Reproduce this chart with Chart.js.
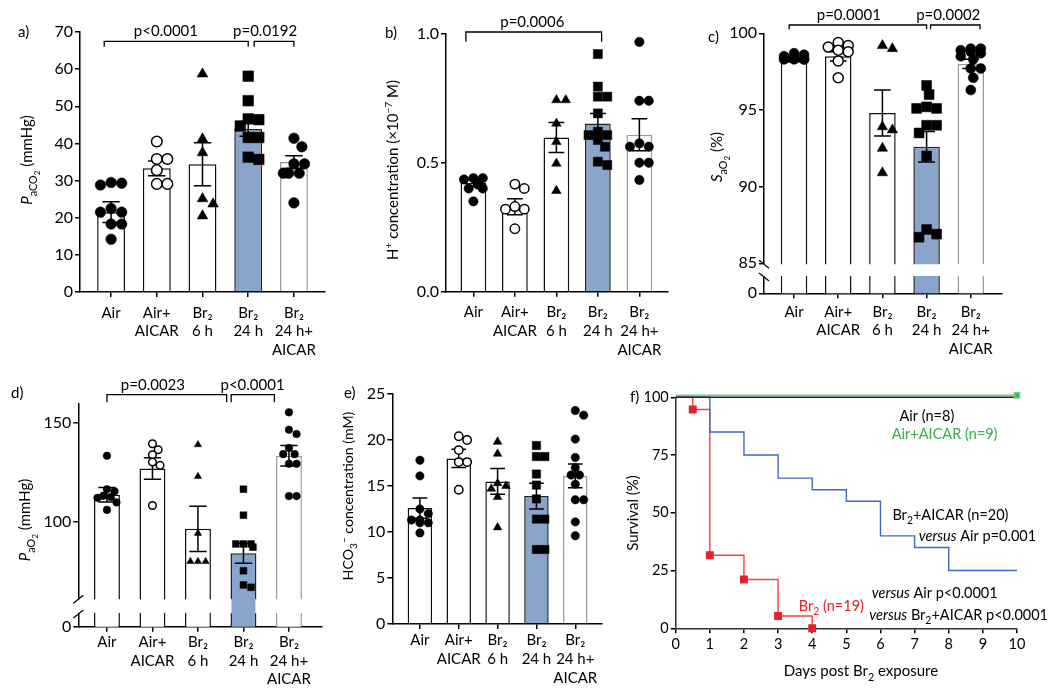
<!DOCTYPE html>
<html>
<head>
<meta charset="utf-8">
<script src="https://cdn.jsdelivr.net/npm/chart.js@4.4.1/dist/chart.umd.min.js"></script>
<style>
  body { margin: 0; background: #fff; }
  #wrap { position: relative; width: 1050px; height: 692px; }
  canvas { position: absolute; }
</style>
</head>
<body>
<div id="wrap"></div>
<script>
// ---- data ----
const groupLabels = [['Air'], ['Air+', 'AICAR'], ['Br₂', '6 h'], ['Br₂', '24 h'], ['Br₂', '24 h+', 'AICAR']]

// a) PaCO2 (mmHg)
const paco2Mean = [21.5, 33.3, 34.4, 43.9, 35.0]
const paco2Sem = [2.8, 2.0, 5.8, 2.0, 1.7]
const paco2Pts = [
  [28.8, 29.5, 29.3, 22.5, 21.5, 21.5, 18.3, 18.3, 14.2],
  [40.5, 35.8, 35.8, 32.8, 29.1, 29.1],
  [58.7, 41.2, 37.5, 25.1, 23.7, 20.5],
  [58.1, 51.5, 46.6, 46.4, 44.7, 41.6, 41.6, 36.3, 35.7],
  [41.4, 39.1, 34.5, 34.5, 32.0, 32.0, 32.0, 24.0]
]

// b) H+ concentration (x10^-7 M)
const hMean = [0.422, 0.329, 0.598, 0.652, 0.608]
const hSem = [0.015, 0.031, 0.058, 0.039, 0.062]
const hPts = [
  [0.44, 0.435, 0.44, 0.415, 0.40, 0.40, 0.35],
  [0.417, 0.40, 0.33, 0.32, 0.32, 0.244],
  [0.743, 0.743, 0.652, 0.581, 0.497, 0.391],
  [0.921, 0.795, 0.756, 0.756, 0.691, 0.62, 0.607, 0.607, 0.588, 0.562, 0.491, 0.504],
  [0.968, 0.74, 0.74, 0.575, 0.562, 0.562, 0.5, 0.5, 0.433]
]

// c) SaO2 (%)
const sao2Mean = [98.2, 98.5, 94.8, 92.6, 98.0]
const sao2Sem = [0.05, 0.3, 1.5, 1.0, 0.3]
const sao2Pts = [
  [98.7, 98.6, 98.5, 98.4, 98.3, 98.3, 98.3, 98.3],
  [99.4, 99.2, 99.1, 98.9, 98.8, 98.2, 97.1],
  [99.0, 99.2, 93.7, 93.9, 92.5, 90.9],
  [96.6, 96.0, 95.2, 95.1, 95.1, 94.0, 94.0, 93.5, 92.0, 87.2, 86.9, 86.7],
  [99.0, 99.0, 98.9, 98.8, 98.7, 98.5, 98.3, 97.7, 97.7, 97.1, 96.3]
]

// d) PaO2 (mmHg)
const pao2Mean = [113.6, 126.9, 96.3, 83.9, 133.4]
const pao2Sem = [3.7, 5.5, 11.5, 5.1, 5.2]
const pao2Pts = [
  [133.4, 116.4, 115.3, 113.0, 112.4, 112.0, 109.7, 105.9],
  [139.5, 136.4, 133.9, 130.2, 128.5, 108.1],
  [139.0, 122.9, 94.0, 79.7, 79.7, 79.7],
  [116.4, 103.2, 88.6, 88.6, 88.6, 87.0, 75.0, 67.8, 66.6],
  [155.4, 146.6, 144.4, 137.3, 134.2, 134.2, 129.3, 129.3, 112.9, 112.9]
]

// e) HCO3- concentration (mM)
const hco3Mean = [12.6, 18.0, 15.5, 13.9, 16.1]
const hco3Sem = [1.1, 1.0, 1.4, 1.4, 1.3]
const hco3Pts = [
  [17.8, 16.1, 12.5, 12.0, 11.3, 11.3, 11.0, 11.0, 9.9],
  [20.4, 20.0, 18.9, 17.6, 17.6, 14.6],
  [19.8, 18.5, 15.3, 15.0, 14.7, 13.8, 10.5],
  [19.4, 18.2, 18.2, 16.3, 15.1, 13.6, 11.4, 11.4, 8.1, 8.1],
  [23.2, 22.7, 20.1, 18.1, 17.0, 16.2, 16.2, 15.2, 13.5, 13.5, 11.1, 9.6]
]

// f) survival (%)
const airDays = [0, 10]
const airSurv = [100, 100]
const airAicarSurv = [100, 100]
const br2AicarDays = [0, 1, 2, 3, 4, 5, 6, 7, 8, 10]
const br2AicarSurv = [100, 85, 75, 65, 60, 55, 40, 35, 25, 25]
const br2Days = [0, 0.5, 1, 2, 3, 4]
const br2Surv = [100, 94.7, 31.6, 21.1, 5.3, 0]
const dayTicks = [0, 1, 2, 3, 4, 5, 6, 7, 8, 9, 10]
const survTicks = [0, 25, 50, 75, 100]

// ---- styles ----
const FONT = 'Lato'
const shapes = ['circle', 'circle', 'triangle', 'rect', 'circle']
const fills = ['#000', '#fff', '#000', '#000', '#000']
const barFill = ['#fff', '#fff', '#fff', 'rgb(138,165,204)', '#fff']
const barLine = ['#111', '#111', '#111', '#222', '#9a9a9a']
const RED = 'rgb(236,70,70)', RED_PT = 'rgb(226,34,40)', BLUE = 'rgb(62,104,198)'
const GREEN = 'rgb(120,204,128)', GREEN_PT = 'rgb(52,178,72)'

const wrap = document.getElementById('wrap')

// draws text with italic / sub / superscript runs, centred on (x, y)
function richText(ctx, parts, x, y, size, opt = {}) {
  const spec = {
    n: [size, 0, ''], i: [size, 0, 'italic '],
    s: [size * 0.72, size * 0.3, ''], ss: [size * 0.55, size * 0.5, ''],
    up: [size * 0.68, -size * 0.38, '']
  }
  let w = 0
  parts.forEach(([t, k]) => {
    const sp = spec[k]
    ctx.font = `${sp[2]}${sp[0]}px ${FONT}`
    w += ctx.measureText(t).width
  })
  ctx.save()
  ctx.translate(x, y)
  if (opt.rot) ctx.rotate(opt.rot)
  ctx.fillStyle = opt.color || '#000'
  ctx.textAlign = 'left'
  ctx.textBaseline = 'alphabetic'
  let cx = -w / 2
  parts.forEach(([t, k]) => {
    const sp = spec[k]
    ctx.font = `${sp[2]}${sp[0]}px ${FONT}`
    ctx.fillText(t, cx, size * 0.36 + sp[1])
    cx += ctx.measureText(t).width
  })
  ctx.restore()
}

// beeswarm kept inside the bar: picks the least-overlapping horizontal slot
function swarm(vals, r, ppx, ppy, maxOff) {
  const placed = []
  const offs = new Array(vals.length).fill(0)
  const order = vals.map((v, i) => i).sort((a, b) => vals[b] - vals[a])
  const cands = []
  for (let k = 0; k * r * 0.5 <= maxOff; k++) {
    cands.push(k * r * 0.5)
    if (k) cands.push(-k * r * 0.5)
  }
  order.forEach(i => {
    const y = vals[i] * ppy
    let best = 0, bestPen = Infinity
    cands.forEach(dx => {
      const pen = placed.reduce((s, p) => s + Math.max(0, 1.9 * r - Math.hypot(p.x - dx, p.y - y)), 0)
      if (pen < bestPen - 1e-6) { bestPen = pen; best = dx }
    })
    placed.push({ x: best, y })
    offs[i] = best / ppx
  })
  return offs
}

const panelPlugin = {
  id: 'panel',
  beforeDatasetDraw(chart, args) {
    const sh = chart.data.datasets[args.index].shiftY
    if (sh) { chart.ctx.save(); chart.ctx.translate(0, sh) }
  },
  afterDatasetDraw(chart, args, o) {
    if (chart.data.datasets[args.index].shiftY) chart.ctx.restore()
    if (args.index !== 0 || !o.mean) return
    const ctx = chart.ctx, xs = chart.scales.x, ys = chart.scales.y, ca = chart.chartArea
    ctx.save()
    if (o.brk) {
      const y1 = ys.getPixelForValue(o.brk.band[0]), y2 = ys.getPixelForValue(o.brk.band[1])
      ctx.fillStyle = '#fff'
      ctx.fillRect(ca.left - 2, y1 + 1, ca.right - ca.left + 2, y2 - y1 - 1)
      if (o.brk.keepFill) {
        chart.getDatasetMeta(0).data.forEach((bar, i) => {
          if (barFill[i] === '#fff') return
          const p = bar.getProps(['x', 'width'], true)
          ctx.fillStyle = barFill[i]
          ctx.fillRect(p.x - p.width / 2 + 1, y1, p.width - 2, y2 - y1 + 1)
        })
      }
      ctx.strokeStyle = '#000'
      ctx.lineWidth = 1.2
      ;[y1 + 1, y2 + 1].forEach(yy => {
        ctx.beginPath()
        ctx.moveTo(ca.left - 5, yy - 4 * o.brk.dir)
        ctx.lineTo(ca.left + 5, yy + 4 * o.brk.dir)
        ctx.stroke()
      })
    }
    ctx.strokeStyle = '#000'
    ctx.lineWidth = 1.5
    const hw = o.cap * (xs.getPixelForValue(1) - xs.getPixelForValue(0))
    o.mean.forEach((m, i) => {
      const x = xs.getPixelForValue(i)
      const yt = ys.getPixelForValue(m + o.sem[i]), yb = ys.getPixelForValue(m - o.sem[i])
      ctx.beginPath()
      ctx.moveTo(x, yt); ctx.lineTo(x, yb)
      ctx.moveTo(x - hw, yt); ctx.lineTo(x + hw, yt)
      ctx.moveTo(x - hw, yb); ctx.lineTo(x + hw, yb)
      ctx.stroke()
    })
    ctx.restore()
  },
  afterDraw(chart, args, o) {
    const ctx = chart.ctx, xs = chart.scales.x, ys = chart.scales.y
    const [bx, by] = o.box
    ctx.save()
    ctx.strokeStyle = '#000'
    ctx.fillStyle = '#000'
    ctx.lineWidth = 1.3
    ;(o.brackets || []).forEach(([a, b, yt, yd, txt, tx]) => {
      const x1 = xs.getPixelForValue(a), x2 = xs.getPixelForValue(b)
      const y1 = ys.getPixelForValue(yt), y2 = ys.getPixelForValue(yd)
      ctx.beginPath()
      ctx.moveTo(x1, y2); ctx.lineTo(x1, y1); ctx.lineTo(x2, y1); ctx.lineTo(x2, y2)
      ctx.stroke()
      ctx.font = `15px ${FONT}`
      ctx.textAlign = 'center'
      ctx.textBaseline = 'alphabetic'
      ctx.fillText(txt, xs.getPixelForValue(tx), y1 - 5)
    })
    ctx.font = `15px ${FONT}`
    ctx.textAlign = 'left'
    ctx.textBaseline = 'middle'
    ctx.fillText(o.tag[0], o.tag[1] - bx, o.tag[2] - by)
    if (o.ytitle) richText(ctx, o.ytitle, o.ytitleAt[0] - bx, o.ytitleAt[1] - by, o.titleSize || 15, { rot: -Math.PI / 2 })
    if (o.xtitle) richText(ctx, o.xtitle, o.xtitleAt[0] - bx, o.xtitleAt[1] - by, 15)
    ;(o.notes || []).forEach(([x, y, parts, color]) => {
      richText(ctx, parts, xs.getPixelForValue(x), ys.getPixelForValue(y), 14.5, { color })
    })
    ctx.restore()
  }
}

function addCanvas(box) {
  const cv = document.createElement('canvas')
  cv.width = box[2]
  cv.height = box[3]
  cv.style.left = box[0] + 'px'
  cv.style.top = box[1] + 'px'
  wrap.appendChild(cv)
  return cv
}

const axisLine = { color: '#000', width: 1.5 }
const tickGrid = { display: true, drawOnChartArea: false, tickLength: 5, color: '#000', lineWidth: 1.5, offset: false }

function barPanel(p) {
  const cv = addCanvas(p.box)
  const [cl, ct, cr, cb] = p.area
  const ppx = (cr - cl) / (p.xr[1] - p.xr[0])
  const ppy = (cb - ct) / (p.yr[1] - p.yr[0])
  const maxOff = p.barW * ppx / 2 - 3
  const datasets = [{
    type: 'bar',
    data: p.mean.map((m, i) => ({ x: i, y: m })),
    backgroundColor: barFill,
    borderColor: barLine,
    borderWidth: 1.5,
    categoryPercentage: p.barW,
    barPercentage: 1,
    order: 2
  }]
  p.pts.forEach((vals, g) => {
    const offs = swarm(vals, p.r.circle, ppx, ppy, maxOff)
    datasets.push({
      type: 'scatter',
      data: vals.map((v, k) => ({ x: g + offs[k], y: v })),
      pointStyle: shapes[g],
      pointRadius: p.r[shapes[g]],
      backgroundColor: fills[g],
      borderColor: '#000',
      borderWidth: g === 1 ? 1.5 : 0.5,
      clip: false,
      order: 1
    })
  })
  new Chart(cv, {
    type: 'bar',
    data: { datasets },
    options: {
      responsive: false,
      animation: false,
      events: [],
      layout: { padding: { left: 0, top: ct - p.box[1], right: p.box[0] + p.box[2] - cr, bottom: 0 } },
      plugins: {
        legend: { display: false },
        tooltip: { enabled: false },
        panel: {
          box: p.box, mean: p.mean, sem: p.sem, cap: 0.19, brackets: p.brackets, brk: p.brk,
          tag: p.tag, ytitle: p.ytitle, ytitleAt: p.ytitleAt, titleSize: p.titleSize
        }
      },
      scales: {
        x: {
          type: 'linear', min: p.xr[0], max: p.xr[1], offset: false,
          afterBuildTicks: s => { s.ticks = [0, 1, 2, 3, 4].map(v => ({ value: v })) },
          afterFit: s => { s.height = p.box[1] + p.box[3] - cb },
          ticks: {
            callback: v => groupLabels[v], color: '#000', autoSkip: false, maxRotation: 0,
            padding: p.catPad, font: { family: FONT, size: 15, lineHeight: 1.25 }
          },
          grid: tickGrid, border: axisLine
        },
        y: {
          min: p.yr[0], max: p.yr[1],
          afterBuildTicks: s => { s.ticks = p.yticks.map(v => ({ value: v })) },
          afterFit: s => { s.width = cl - p.box[0] },
          ticks: { callback: p.yfmt, color: '#000', padding: 2, font: { family: FONT, size: 16 } },
          grid: tickGrid, border: axisLine
        }
      }
    },
    plugins: [panelPlugin]
  })
}

barPanel({
  box: [0, 0, 345, 362], area: [80, 32, 325, 292], xr: [-0.68, 4.68], yr: [0, 70],
  yticks: [0, 10, 20, 30, 40, 50, 60, 70], yfmt: v => v, barW: 0.61, catPad: 6.5,
  r: { circle: 5.3, rect: 7.5, triangle: 6.2 },
  mean: paco2Mean, sem: paco2Sem, pts: paco2Pts,
  brackets: [[-0.15, 3.0, 67.5, 66.0, 'p<0.0001', 1.2], [3.13, 4.0, 67.5, 66.0, 'p=0.0192', 3.37]],
  tag: ['a)', 18, 32],
  ytitle: [['P', 'i'], ['aCO', 's'], ['2', 'ss'], [' (mmHg)', 'n']], ytitleAt: [26.7, 160]
})

barPanel({
  box: [350, 0, 340, 362], area: [446, 33.7, 668, 291.7], xr: [-0.66, 4.69], yr: [0, 1],
  yticks: [0, 0.5, 1], yfmt: v => v.toFixed(1), barW: 0.62, catPad: 6.5,
  r: { circle: 4.7, rect: 6.4, triangle: 5.5 },
  mean: hMean, sem: hSem, pts: hPts,
  brackets: [[-0.18, 3.09, 1.0066, 0.969, 'p=0.0006', 1.42]],
  tag: ['b)', 385, 33],
  ytitle: [['H', 'n'], ['+', 'up'], [' concentration (×10', 'n'], ['−7', 'up'], [' M)', 'n']], ytitleAt: [392.7, 170]
})

barPanel({
  box: [695, 0, 355, 362], area: [764, 33.3, 1001.7, 293.3], xr: [-0.68, 4.7], yr: [83.04, 100],
  yticks: [83.04, 85, 90, 95, 100], yfmt: v => (v < 85 ? '0' : v), barW: 0.6, catPad: 4,
  r: { circle: 5, rect: 7, triangle: 6 },
  mean: sao2Mean, sem: sao2Sem, pts: sao2Pts,
  brackets: [[-0.11, 3.0, 100.54, 100.26, 'p=0.0001', 1.24], [3.09, 4.21, 100.54, 100.26, 'p=0.0002', 3.49]],
  brk: { band: [85, 84.17], dir: 1 },
  tag: ['c)', 708, 37],
  ytitle: [['S', 'i'], ['aO', 's'], ['2', 'ss'], [' (%)', 'n']], ytitleAt: [716.7, 157]
})

barPanel({
  box: [0, 362, 338, 330], area: [78.3, 403.3, 321.7, 626.7], xr: [-0.63, 4.72], yr: [46.6, 160],
  yticks: [46.6, 100, 150], yfmt: v => (v < 50 ? '0' : v), barW: 0.57, catPad: 1,
  r: { circle: 3.8, rect: 4.8, triangle: 4.2 },
  mean: pao2Mean, sem: pao2Sem, pts: pao2Pts,
  brackets: [[0, 2.63, 164.4, 160.5, 'p=0.0023', 1.01], [2.73, 3.68, 164.4, 160.5, 'p<0.0001', 3.2]],
  brk: { band: [61, 53.6], dir: -1, keepFill: true },
  tag: ['d)', 11, 393],
  ytitle: [['P', 'i'], ['aO', 's'], ['2', 'ss'], [' (mmHg)', 'n']], ytitleAt: [25, 520]
})

barPanel({
  box: [338, 362, 282, 330], area: [392.3, 394, 601.7, 624], xr: [-0.71, 4.68], yr: [0, 25],
  yticks: [0, 5, 10, 15, 20, 25], yfmt: v => v, barW: 0.63, catPad: 2,
  r: { circle: 4.2, rect: 5.9, triangle: 5 },
  mean: hco3Mean, sem: hco3Sem, pts: hco3Pts,
  tag: ['e)', 344, 393], titleSize: 14.2,
  ytitle: [['HCO', 'n'], ['3', 's'], ['−', 'up'], [' concentration (mM)', 'n']], ytitleAt: [348, 496]
})

// ---- f) Kaplan-Meier survival ----
const xy = (xs, ys) => xs.map((x, i) => ({ x, y: ys[i] }))
const fBox = [620, 362, 430, 330], fArea = [675.7, 397.3, 1017, 628.3]
new Chart(addCanvas(fBox), {
  type: 'line',
  data: {
    datasets: [
      { data: xy(airDays, airAicarSurv), borderColor: GREEN, borderWidth: 1.6, stepped: true,
        pointStyle: 'rect', pointRadius: [0, 3.6], backgroundColor: GREEN_PT, borderJoinStyle: 'miter', shiftY: -2, clip: false },
      { data: xy(airDays, airSurv), borderColor: '#222', borderWidth: 1.5, stepped: true, pointRadius: 0, clip: false },
      { data: xy(br2AicarDays, br2AicarSurv), borderColor: BLUE, borderWidth: 1.4, stepped: true, pointRadius: 0, clip: false },
      { data: xy(br2Days, br2Surv), borderColor: RED, borderWidth: 1.4, stepped: true,
        pointStyle: 'rect', pointRadius: [0, 4.6, 4.6, 4.6, 4.6, 4.6], backgroundColor: RED_PT, pointBorderColor: RED_PT, clip: false }
    ]
  },
  options: {
    responsive: false,
    animation: false,
    events: [],
    layout: { padding: { left: 0, top: fArea[1] - fBox[1], right: fBox[0] + fBox[2] - fArea[2], bottom: 0 } },
    plugins: {
      legend: { display: false },
      tooltip: { enabled: false },
      panel: {
        box: fBox, tag: ['f)', 630, 397],
        ytitle: [['Survival (%)', 'n']], ytitleAt: [633, 513],
        xtitle: [['Days post Br', 'n'], ['2', 's'], [' exposure', 'n']], xtitleAt: [861, 671],
        notes: [
          [7.36, 92, [['Air (n=8)', 'n']], '#000'],
          [7.88, 84, [['Air+AICAR (n=9)', 'n']], GREEN_PT],
          [8.05, 49.1, [['Br', 'n'], ['2', 's'], ['+AICAR (n=20)', 'n']], '#000'],
          [8.84, 40.2, [['versus', 'i'], [' Air p=0.001', 'n']], '#000'],
          [7.59, 15.4, [['versus', 'i'], [' Air p<0.0001', 'n']], '#000'],
          [8.29, 5.8, [['versus', 'i'], [' Br', 'n'], ['2', 's'], ['+AICAR p<0.0001', 'n']], '#000'],
          [4.56, 9.9, [['Br', 'n'], ['2', 's'], [' (n=19)', 'n']], RED_PT]
        ]
      }
    },
    scales: {
      x: {
        type: 'linear', min: 0, max: 10,
        afterBuildTicks: s => { s.ticks = dayTicks.map(v => ({ value: v })) },
        afterFit: s => { s.height = fBox[1] + fBox[3] - fArea[3] },
        ticks: { color: '#000', padding: 2, maxRotation: 0, font: { family: FONT, size: 14.5 } },
        grid: tickGrid, border: { color: '#333', width: 1.5 }
      },
      y: {
        min: 0, max: 100,
        afterBuildTicks: s => { s.ticks = survTicks.map(v => ({ value: v })) },
        afterFit: s => { s.width = fArea[0] - fBox[0] },
        ticks: { color: '#000', padding: 2, font: { family: FONT, size: 14.5 } },
        grid: tickGrid, border: { color: '#333', width: 1.5 }
      }
    }
  },
  plugins: [panelPlugin]
})
</script>
</body>
</html>
